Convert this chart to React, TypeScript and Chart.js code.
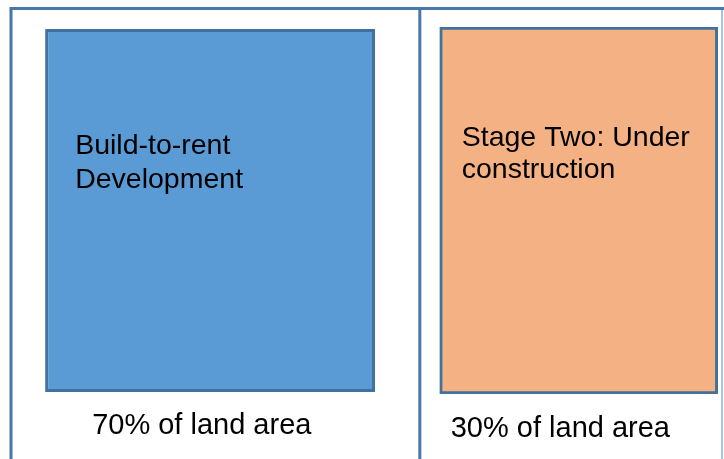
import React, { useEffect, useRef } from "react";
import { Chart, registerables } from "chart.js";

Chart.register(...registerables);

// ---- data ----
const categories = ["Build-to-rent Development", "Stage Two: Under construction"];
const boxLabelLines = [
  ["Build-to-rent", "Development"],
  ["Stage Two: Under", "construction"],
];
const landShare = [70, 30];
const barStart = [4.8, 60.3];
const barEnd = [51.2, 99.4];
const dividerAt = 57.5;
const axisMin = 0;
const axisMax = 100;

const fills = ["#5b9bd5", "#f4b183"];
const edge = "#41719c";
const frameColor = "#4a77a9";

export default function App() {
  const ref = useRef<HTMLCanvasElement | null>(null);

  useEffect(() => {
    document.body.style.margin = "0";
    const canvas = ref.current;
    if (!canvas) return;

    const framePlugin = {
      id: "framePlugin",
      beforeDatasetsDraw(chart: any) {
        const { ctx, chartArea, scales } = chart;
        const x = scales.x;
        const W = chart.width;
        const H = chart.height;
        const left = x.getPixelForValue(axisMin);
        const right = x.getPixelForValue(axisMax);
        const mid = x.getPixelForValue(dividerAt);
        const topY = chartArea.top - 18.5;
        ctx.save();
        ctx.strokeStyle = frameColor;
        ctx.lineWidth = 3;
        ctx.beginPath();
        ctx.moveTo(left, H);
        ctx.lineTo(left, topY);
        ctx.lineTo(W, topY);
        ctx.moveTo(mid, topY);
        ctx.lineTo(mid, H);
        ctx.stroke();
        ctx.strokeStyle = "#a9c4e4";
        ctx.lineWidth = 2;
        ctx.beginPath();
        ctx.moveTo(right, topY + 1.5);
        ctx.lineTo(right, H);
        ctx.stroke();
        ctx.restore();
      },
      afterDatasetsDraw(chart: any) {
        const { ctx, chartArea } = chart;
        const insetX = [30, 22];
        const firstBase = [152, 146];
        const lineGap = [34, 32];
        const bottomInset = [47, 11];
        const bottomBase = [434, 437];
        ctx.save();
        ctx.fillStyle = "#000000";
        ctx.textAlign = "left";
        ctx.textBaseline = "alphabetic";
        categories.forEach((_, i) => {
          const meta = chart.getDatasetMeta(i);
          const el: any = meta.data[0];
          if (!el) return;
          const l = Math.min(el.x, el.base);
          const top = el.y - el.height / 2;
          ctx.font = '28.5px "Liberation Sans", Arial, sans-serif';
          boxLabelLines[i].forEach((line, j) => {
            ctx.fillText(line, l + insetX[i], top + (firstBase[i] - 27) + j * lineGap[i]);
          });
          ctx.font = '29px "Liberation Sans", Arial, sans-serif';
          ctx.fillText(
            `${landShare[i]}% of land area`,
            l + bottomInset[i],
            chartArea.bottom + (bottomBase[i] - 394)
          );
        });
        ctx.restore();
      },
    };

    const chart = new Chart(canvas, {
      type: "bar",
      data: {
        labels: ["Site"],
        datasets: categories.map((name, i) => ({
          label: name,
          data: [[barStart[i], barEnd[i]]] as any,
          backgroundColor: fills[i],
          borderColor: edge,
          borderWidth: 3,
          borderSkipped: false,
          grouped: false,
          categoryPercentage: 1,
          barPercentage: i === 0 ? 0.989 : 1,
        })),
      },
      options: {
        indexAxis: "y",
        animation: false,
        responsive: false,
        devicePixelRatio: 1,
        layout: { padding: { left: 11, right: 2, top: 27, bottom: 65 } },
        plugins: {
          legend: { display: false },
          tooltip: { enabled: false },
          title: { display: false },
        },
        scales: {
          x: { type: "linear", min: axisMin, max: axisMax, display: false },
          y: { type: "category", display: false, offset: true },
        },
      },
      plugins: [framePlugin],
    } as any);

    return () => chart.destroy();
  }, []);

  return (
    <div style={{ width: 724, height: 459, background: "#ffffff" }}>
      <canvas ref={ref} width={724} height={459} style={{ width: 724, height: 459, display: "block" }} />
    </div>
  );
}
